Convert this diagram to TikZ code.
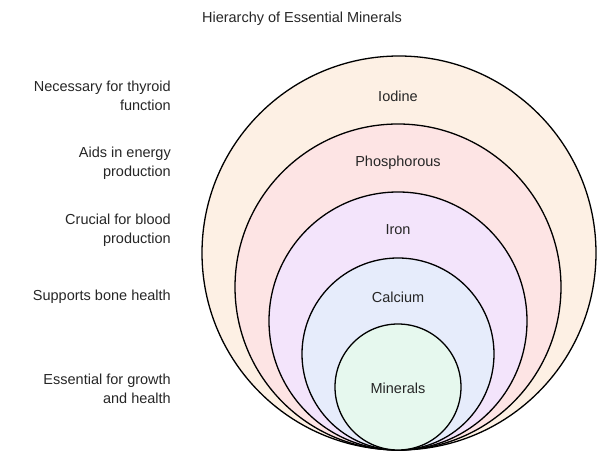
\documentclass[tikz,border=0pt]{standalone}
\usepackage{fontspec}
\setmainfont{Liberation Sans}
\definecolor{iodinefill}{HTML}{FDF0E4}
\definecolor{phosfill}{HTML}{FDE4E4}
\definecolor{ironfill}{HTML}{F3E4FB}
\definecolor{calcfill}{HTML}{E6ECFB}
\definecolor{minfill}{HTML}{E6F8EE}
\begin{document}
\begin{tikzpicture}[x=1pt,y=-1pt]
  \tikzstyle{myring}=[draw=black, line width=1.3pt];
  \tikzstyle{mytext}=[font=\fontsize{14.5}{19}\selectfont, text=black!85, inner sep=0pt];
  \tikzstyle{mynote}=[mytext, align=right, anchor=east];
  \useasboundingbox (0,0) rectangle (606,462);
  %
  % title
  \node[mytext] (title) at (302,19) {Hierarchy of Essential Minerals};
  %
  % rings, outer first
  \draw[myring, fill=iodinefill] (399,253) circle (197);
  \draw[myring, fill=phosfill] (398,287) circle (163);
  \draw[myring, fill=ironfill] (398,321) circle (129);
  \draw[myring, fill=calcfill] (398,354) circle (96);
  \draw[myring, fill=minfill] (398,387) circle (63);
  %
  % ring labels
  \node[mytext] (iodine) at (398,96) {Iodine};
  \node[mytext] (phos) at (398,163) {Phosphorous};
  \node[mytext] (iron) at (398,230) {Iron};
  \node[mytext] (calc) at (398,297) {Calcium};
  \node[mytext] (min) at (398,388) {Minerals};
  %
  % descriptions
  \node[mynote] (thyroid) at (171,96) {Necessary for thyroid\\function};
  \node[mynote] (energy) at (171,163) {Aids in energy\\production};
  \node[mynote] (blood) at (171,230) {Crucial for blood\\production};
  \node[mynote] (bone) at (171,297) {Supports bone health};
  \node[mynote] (growth) at (171,389) {Essential for growth\\and health};
\end{tikzpicture}
\end{document}
